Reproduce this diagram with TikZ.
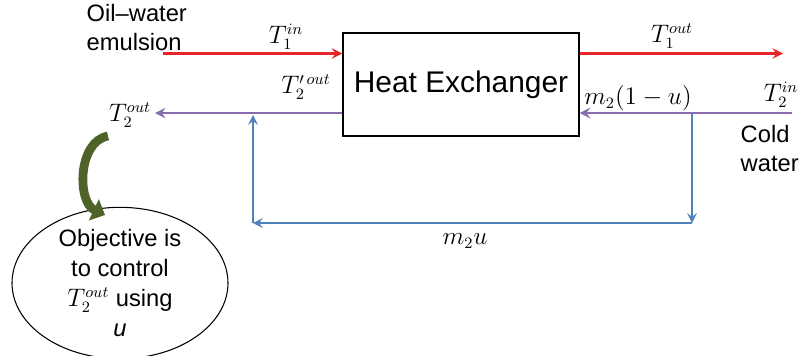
\documentclass[tikz,border=0pt]{standalone}
\usepackage{amsmath}
\usepackage{fontspec}
\setmainfont{Liberation Sans}
\usepackage{tikz}
\usetikzlibrary{positioning,shapes.geometric,arrows.meta}

\definecolor{hotred}{HTML}{E8262A}
\definecolor{coldpurple}{HTML}{8A6BB0}
\definecolor{loopblue}{HTML}{4F81BD}
\definecolor{noteolive}{HTML}{4F6228}

\begin{document}
\begin{tikzpicture}[>=stealth, thick,
    txt/.style={font=\fontsize{13.5}{16}\selectfont, inner sep=0pt},
    lbl/.style={font=\fontsize{13.5}{15}\selectfont, inner sep=1pt},
    hot/.style={->, hotred, line width=1.6pt},
    cold/.style={->, coldpurple, line width=1.6pt},
    bypass/.style={->, loopblue, line width=1.4pt}]
    \useasboundingbox (0,0) rectangle (16.08,-7.1);

    \node[draw, line width=0.8pt, minimum width=4.72cm, minimum height=2.06cm,
          font=\fontsize{17}{20}\selectfont] (hx) at (9.22,-1.69) {Heat Exchanger};

    \node[txt, align=left, anchor=north west] (oil) at (1.72,-0.08) {Oil--water\\emulsion};
    \node[txt, align=left, anchor=north west] (cold) at (14.8,-2.5) {Cold\\water};

    \coordinate (hin) at (3.26,-1.07);
    \coordinate (hout) at (15.66,-1.07);
    \coordinate (cin) at (15.84,-2.26);
    \coordinate (cout) at (3.1,-2.26);
    \coordinate (split) at (13.84,-2.26);
    \coordinate (s1) at (13.84,-4.46);
    \coordinate (m1) at (5.06,-4.46);
    \coordinate (merge) at (5.06,-2.3);

    \node[lbl] (t1in) at (5.72,-0.74) {$T_1^{in}$};
    \node[lbl] (t1out) at (13.44,-0.72) {$T_1^{out}$};
    \node[lbl] (t2in) at (15.62,-1.9) {$T_2^{in}$};
    \node[lbl] (t2p) at (6.12,-1.74) {$T_2^{\prime\,out}$};
    \node[lbl] (t2out) at (2.6,-2.3) {$T_2^{out}$};
    \node[lbl] (frac) at (12.76,-1.96) {$m_2(1-u)$};
    \node[lbl] (byp) at (9.3,-4.82) {$m_2u$};

    \node[draw, ellipse, line width=0.6pt, minimum width=4.32cm, minimum height=2.7cm,
          font=\fontsize{13.5}{17}\selectfont, inner sep=0pt, align=center] (obj) at (2.4,-5.66)
          {Objective is\\to control\\$T_2^{out}$ using\\\textit{u}};

    \draw[hot] (hin) -- (hx.west |- hin);
    \draw[hot] (hx.east |- hout) -- (hout);
    \draw[cold] (cin) -- (hx.east |- cin);
    \draw[cold] (hx.west |- cout) -- (cout);

    \draw[bypass] (split) -- (s1);
    \draw[bypass] (s1) -- (m1);
    \draw[bypass] (m1) -- (merge);

    \coordinate (gs) at (2.16,-2.72);
    \coordinate (ge) at (2.1,-4.3);
    \draw[noteolive, line width=5pt, -{Triangle[width=13pt,length=7pt]}]
        (gs) to[out=190, in=155] (ge);
\end{tikzpicture}
\end{document}
